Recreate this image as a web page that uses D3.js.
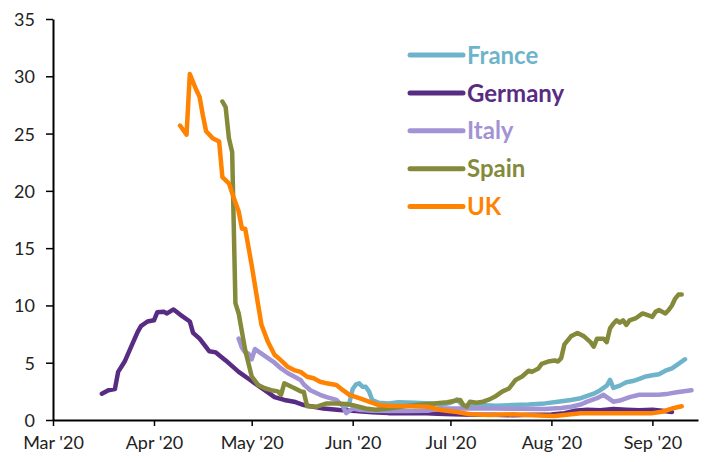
<!DOCTYPE html>
<html>
<head>
<meta charset="utf-8">
<script src="https://cdn.jsdelivr.net/npm/d3@7"></script>
<style>
  body { margin: 0; background: #fff; }
  .tick text { font-family: Lato, "Open Sans", sans-serif; font-size: 18px; fill: #222; }
</style>
</head>
<body>
<div class="container"></div>
<script>
const countries = ["France", "Germany", "Italy", "Spain", "UK"];
const colors = ["#6fb3cb", "#582c83", "#a293d5", "#858a3b", "#ff8300"];
const yTicks = [0, 5, 10, 15, 20, 25, 30, 35];

const france = [
  ["2020-05-29", 0.9], ["2020-05-31", 1.5], ["2020-06-01", 2.7], ["2020-06-02", 3.1], ["2020-06-03", 3.2],
  ["2020-06-04", 2.9], ["2020-06-05", 2.9], ["2020-06-06", 2.5], ["2020-06-07", 1.75], ["2020-06-09", 1.5],
  ["2020-06-12", 1.45], ["2020-06-15", 1.55], ["2020-06-20", 1.5], ["2020-06-25", 1.45], ["2020-06-28", 1.3],
  ["2020-07-01", 1.5], ["2020-07-03", 1.8], ["2020-07-05", 1.2], ["2020-07-10", 1.3], ["2020-07-15", 1.25],
  ["2020-07-20", 1.3], ["2020-07-25", 1.35], ["2020-07-30", 1.45], ["2020-08-03", 1.6], ["2020-08-07", 1.75],
  ["2020-08-10", 1.9], ["2020-08-12", 2.1], ["2020-08-14", 2.3], ["2020-08-16", 2.6], ["2020-08-18", 3.0],
  ["2020-08-19", 3.5], ["2020-08-20", 2.8], ["2020-08-22", 3.0], ["2020-08-24", 3.3], ["2020-08-26", 3.4],
  ["2020-08-28", 3.6], ["2020-08-30", 3.8], ["2020-09-01", 3.9], ["2020-09-03", 4.0], ["2020-09-05", 4.3],
  ["2020-09-07", 4.5], ["2020-09-09", 4.9], ["2020-09-11", 5.3]
];

const germany = [
  ["2020-03-16", 2.3], ["2020-03-18", 2.6], ["2020-03-20", 2.7], ["2020-03-21", 4.2], ["2020-03-23", 5.1],
  ["2020-03-25", 6.4], ["2020-03-27", 7.7], ["2020-03-28", 8.2], ["2020-03-30", 8.6], ["2020-04-01", 8.7],
  ["2020-04-02", 9.4], ["2020-04-04", 9.45], ["2020-04-05", 9.3], ["2020-04-07", 9.65], ["2020-04-09", 9.2],
  ["2020-04-12", 8.6], ["2020-04-13", 7.6], ["2020-04-15", 7.1], ["2020-04-18", 6.0], ["2020-04-20", 5.9],
  ["2020-04-23", 5.2], ["2020-04-27", 4.2], ["2020-04-30", 3.6], ["2020-05-02", 3.2], ["2020-05-04", 2.8],
  ["2020-05-05", 2.6], ["2020-05-08", 2.0], ["2020-05-11", 1.75], ["2020-05-14", 1.6], ["2020-05-17", 1.3],
  ["2020-05-20", 1.15], ["2020-05-23", 1.0], ["2020-05-28", 0.87], ["2020-06-02", 0.78], ["2020-06-07", 0.67],
  ["2020-06-12", 0.6], ["2020-06-17", 0.6], ["2020-06-22", 0.6], ["2020-06-27", 0.55], ["2020-07-02", 0.5],
  ["2020-07-08", 0.45], ["2020-07-14", 0.45], ["2020-07-20", 0.42], ["2020-07-26", 0.45], ["2020-08-01", 0.48],
  ["2020-08-05", 0.6], ["2020-08-08", 0.8], ["2020-08-12", 0.9], ["2020-08-16", 0.85], ["2020-08-20", 0.95],
  ["2020-08-24", 0.9], ["2020-08-28", 0.85], ["2020-09-01", 0.9], ["2020-09-04", 0.8], ["2020-09-07", 0.7]
];

const italy = [
  ["2020-04-27", 7.1], ["2020-04-28", 6.3], ["2020-04-29", 5.9], ["2020-04-30", 5.8], ["2020-05-01", 5.3],
  ["2020-05-02", 6.2], ["2020-05-04", 5.8], ["2020-05-06", 5.4], ["2020-05-08", 5.0], ["2020-05-10", 4.5],
  ["2020-05-12", 4.1], ["2020-05-14", 3.8], ["2020-05-16", 3.5], ["2020-05-17", 3.1], ["2020-05-19", 2.6],
  ["2020-05-22", 2.2], ["2020-05-24", 2.0], ["2020-05-27", 1.75], ["2020-05-29", 1.2], ["2020-05-30", 0.6],
  ["2020-06-01", 1.0], ["2020-06-03", 0.9], ["2020-06-07", 0.8], ["2020-06-12", 0.78], ["2020-06-18", 0.78],
  ["2020-06-24", 0.8], ["2020-06-28", 1.0], ["2020-07-04", 1.0], ["2020-07-10", 1.0], ["2020-07-14", 1.0],
  ["2020-07-22", 0.98], ["2020-07-30", 0.96], ["2020-08-04", 1.05], ["2020-08-07", 1.16], ["2020-08-10", 1.35],
  ["2020-08-12", 1.6], ["2020-08-15", 1.9], ["2020-08-17", 2.2], ["2020-08-18", 2.0], ["2020-08-20", 1.6],
  ["2020-08-22", 1.7], ["2020-08-25", 2.0], ["2020-08-28", 2.2], ["2020-08-31", 2.2], ["2020-09-03", 2.2],
  ["2020-09-06", 2.3], ["2020-09-09", 2.45], ["2020-09-13", 2.6]
];

const spain = [
  ["2020-04-22", 27.8], ["2020-04-23", 27.3], ["2020-04-24", 24.6], ["2020-04-25", 23.4], ["2020-04-26", 10.2],
  ["2020-04-27", 9.3], ["2020-04-29", 6.1], ["2020-05-01", 3.8], ["2020-05-03", 3.05], ["2020-05-05", 2.77],
  ["2020-05-07", 2.6], ["2020-05-09", 2.5], ["2020-05-10", 2.2], ["2020-05-11", 3.2], ["2020-05-14", 2.8],
  ["2020-05-16", 2.5], ["2020-05-17", 2.45], ["2020-05-18", 1.2], ["2020-05-21", 1.16], ["2020-05-24", 1.45],
  ["2020-05-27", 1.45], ["2020-05-30", 1.4], ["2020-06-01", 1.3], ["2020-06-05", 1.0], ["2020-06-08", 0.9],
  ["2020-06-12", 1.0], ["2020-06-17", 1.2], ["2020-06-22", 1.35], ["2020-06-26", 1.45], ["2020-06-30", 1.55],
  ["2020-07-03", 1.7], ["2020-07-04", 1.75], ["2020-07-05", 1.3], ["2020-07-06", 1.15], ["2020-07-07", 1.6],
  ["2020-07-09", 1.5], ["2020-07-11", 1.6], ["2020-07-13", 1.8], ["2020-07-15", 2.1], ["2020-07-17", 2.5],
  ["2020-07-19", 2.75], ["2020-07-21", 3.5], ["2020-07-23", 3.8], ["2020-07-25", 4.3], ["2020-07-26", 4.2],
  ["2020-07-28", 4.5], ["2020-07-29", 4.9], ["2020-07-31", 5.1], ["2020-08-02", 5.2], ["2020-08-03", 5.1],
  ["2020-08-04", 5.4], ["2020-08-05", 6.6], ["2020-08-07", 7.3], ["2020-08-09", 7.6], ["2020-08-11", 7.3],
  ["2020-08-13", 6.8], ["2020-08-14", 6.4], ["2020-08-15", 7.1], ["2020-08-17", 7.1], ["2020-08-18", 6.8],
  ["2020-08-19", 8.0], ["2020-08-20", 8.4], ["2020-08-21", 8.7], ["2020-08-22", 8.5], ["2020-08-23", 8.7],
  ["2020-08-24", 8.3], ["2020-08-25", 8.7], ["2020-08-27", 8.9], ["2020-08-29", 9.3], ["2020-08-31", 9.1],
  ["2020-09-01", 9.0], ["2020-09-02", 9.45], ["2020-09-03", 9.6], ["2020-09-05", 9.3], ["2020-09-06", 9.6],
  ["2020-09-07", 10.0], ["2020-09-08", 10.6], ["2020-09-09", 10.95], ["2020-09-10", 10.95]
];

const uk = [
  ["2020-04-09", 25.7], ["2020-04-11", 24.9], ["2020-04-12", 30.2], ["2020-04-14", 28.8], ["2020-04-15", 28.2],
  ["2020-04-16", 26.6], ["2020-04-17", 25.2], ["2020-04-19", 24.6], ["2020-04-21", 24.3], ["2020-04-22", 21.2],
  ["2020-04-24", 20.65], ["2020-04-25", 19.8], ["2020-04-27", 18.2], ["2020-04-28", 16.7], ["2020-04-29", 16.7],
  ["2020-05-01", 13.5], ["2020-05-03", 10.0], ["2020-05-04", 8.3], ["2020-05-06", 6.8], ["2020-05-08", 5.7],
  ["2020-05-10", 5.2], ["2020-05-12", 4.65], ["2020-05-14", 4.36], ["2020-05-16", 4.2], ["2020-05-18", 3.78],
  ["2020-05-20", 3.64], ["2020-05-22", 3.34], ["2020-05-24", 3.2], ["2020-05-27", 3.05], ["2020-05-29", 2.6],
  ["2020-05-31", 2.2], ["2020-06-03", 1.9], ["2020-06-06", 1.6], ["2020-06-09", 1.3], ["2020-06-12", 1.25],
  ["2020-06-19", 1.2], ["2020-06-24", 1.16], ["2020-06-28", 0.87], ["2020-07-03", 0.7], ["2020-07-07", 0.5],
  ["2020-07-13", 0.44], ["2020-07-20", 0.5], ["2020-07-30", 0.38], ["2020-08-02", 0.35], ["2020-08-10", 0.58],
  ["2020-08-18", 0.6], ["2020-08-26", 0.58], ["2020-09-01", 0.6], ["2020-09-04", 0.72], ["2020-09-07", 1.0],
  ["2020-09-10", 1.2]
];

const seriesData = [france, germany, italy, spain, uk];

const width = 708;
const height = 462;
const parse = d3.utcParse("%Y-%m-%d");

const svg = d3.select(".container")
  .append("svg")
  .attr("width", width)
  .attr("height", height)
  .attr("viewBox", [0, 0, width, height]);

const x = d3.scaleUtc()
  .domain([parse("2020-03-01"), parse("2020-09-15")])
  .range([53, 698]);

const y = d3.scaleLinear()
  .domain([0, 35])
  .range([420, 19]);

// lines, France first so UK ends on top
const line = d3.line()
  .x(d => x(parse(d[0])))
  .y(d => y(d[1]));

svg.append("g")
  .selectAll("path")
  .data(seriesData)
  .join("path")
  .attr("d", line)
  .attr("fill", "none")
  .attr("stroke", (d, i) => colors[i])
  .attr("stroke-width", 4.5)
  .attr("stroke-linejoin", "round")
  .attr("stroke-linecap", "round");

// axes
const xAxis = svg.append("g")
  .attr("transform", `translate(0, ${y(0)})`)
  .call(d3.axisBottom(x)
    .ticks(d3.utcMonth.every(1))
    .tickFormat(d3.utcFormat("%b '%y"))
    .tickSize(6)
    .tickSizeOuter(0)
    .tickPadding(10));

const yAxis = svg.append("g")
  .attr("transform", `translate(${x.range()[0]}, 0)`)
  .call(d3.axisLeft(y)
    .tickValues(yTicks)
    .tickSize(7)
    .tickSizeOuter(0)
    .tickPadding(11));

[xAxis, yAxis].forEach(g => {
  g.select(".domain").attr("stroke", "#000").attr("stroke-width", 2);
  g.selectAll(".tick line").attr("stroke", "#000").attr("stroke-width", 1.5);
});
yAxis.selectAll(".tick text").attr("dy", "0.36em");

// legend
const legend = svg.append("g").attr("id", "legend");

const rows = legend.selectAll("g")
  .data(countries)
  .join("g")
  .attr("transform", (d, i) => `translate(0, ${55 + i * 37.9})`);

rows.append("line")
  .attr("x1", 410)
  .attr("x2", 463)
  .attr("stroke", (d, i) => colors[i])
  .attr("stroke-width", 5)
  .attr("stroke-linecap", "round");

rows.append("text")
  .attr("x", 467)
  .attr("dy", "0.36em")
  .attr("fill", (d, i) => colors[i])
  .style("font-family", "Lato, 'Open Sans', sans-serif")
  .style("font-weight", "bold")
  .style("font-size", "24px")
  .text(d => d);
</script>
</body>
</html>
